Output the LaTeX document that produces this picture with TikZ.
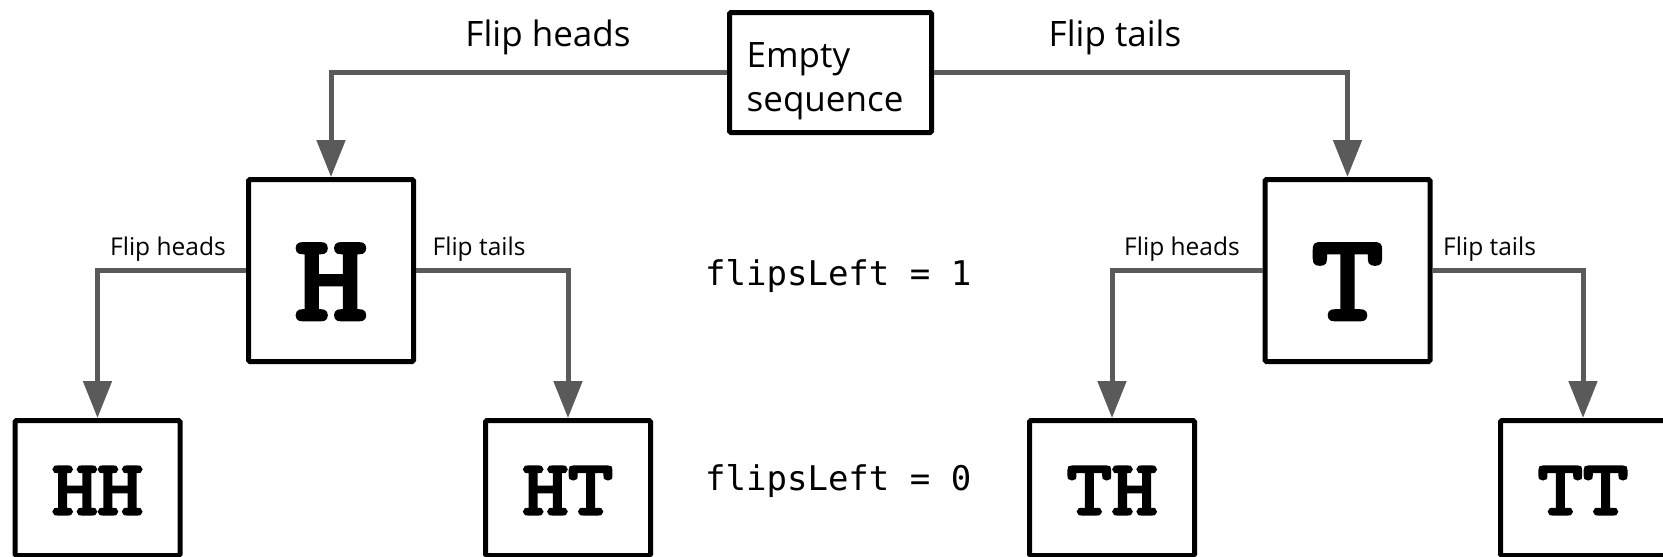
\documentclass[tikz,border=0pt]{standalone}
\usepackage{fontspec}
\setmainfont{Open Sans}
\newfontfamily\codefont{DejaVu Sans Mono}
\newfontfamily\letterfont{lmmono10-regular.otf}[FakeBold=4,FakeStretch=1.12]
\usetikzlibrary{arrows.meta,calc}
\definecolor{conn}{HTML}{5A5A5A}
\begin{document}
\begin{tikzpicture}[x=1pt,y=-1pt,
  box/.style={draw=black, line width=5pt, rounded corners=1.5pt, fill=white, inner sep=0pt, minimum width=165pt},
  midbox/.style={box, minimum height=182pt, text height=97pt, text depth=0pt, font=\letterfont\fontsize{122}{128}\selectfont},
  lowbox/.style={box, minimum height=135pt, text height=52pt, text depth=0pt, font=\letterfont\fontsize{77}{84}\selectfont},
  flow/.style={draw=conn, line width=5pt, -{Triangle[width=28pt,length=37pt]}},
  biglbl/.style={inner sep=0pt, anchor=base, font=\fontsize{35}{42}\selectfont},
  smalllbl/.style={inner sep=0pt, anchor=base west, font=\fontsize{24.5}{30}\selectfont},
  codelbl/.style={inner sep=0pt, anchor=base west, font=\codefont\fontsize{34}{40}\selectfont}
]
\useasboundingbox (0,0) rectangle (1663,557);

% boxes
\node[box, minimum width=202pt, minimum height=120pt] (E) at (830.5,72.5) {};
\node[inner sep=0pt, anchor=base west, font=\fontsize{35}{42}\selectfont] (E1) at (746.5,67.7) {Empty};
\node[inner sep=0pt, anchor=base west, font=\fontsize{35}{42}\selectfont] (E2) at (746.5,111.7) {sequence};

\node[midbox] (H) at (331,270.5) {H};
\node[midbox] (T) at (1347.5,270.5) {T};

\node[lowbox] (HH) at (97.5,488) {HH};
\node[lowbox] (HT) at (568,488) {HT};
\node[lowbox] (TH) at (1112,488) {TH};
\node[lowbox] (TT) at (1583,488) {TT};

% connectors
\draw[flow] (E.west) -| (H.north);
\draw[flow] (E.east) -| (T.north);
\draw[flow] (H.west) -| (HH.north);
\draw[flow] (H.east) -| (HT.north);
\draw[flow] (T.west) -| (TH.north);
\draw[flow] (T.east) -| (TT.north);

% labels
\node[biglbl] (L1) at (548,46.7) {Flip heads};
\node[biglbl] (L2) at (1115,46.7) {Flip tails};
\node[smalllbl] (L3) at (110,255.3) {Flip heads};
\node[smalllbl] (L4) at (432.5,255.3) {Flip tails};
\node[smalllbl] (L5) at (1124,255.3) {Flip heads};
\node[smalllbl] (L6) at (1443,255.3) {Flip tails};

\node[codelbl] (C1) at (705,285) {flipsLeft = 1};
\node[codelbl] (C0) at (705,490) {flipsLeft = 0};
\end{tikzpicture}
\end{document}
